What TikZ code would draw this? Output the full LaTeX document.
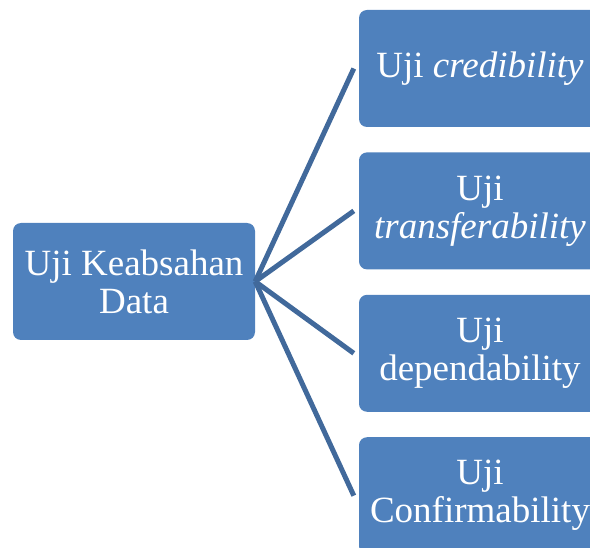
\documentclass[tikz,border=0pt]{standalone}
\usepackage{fontspec}
\setmainfont{Liberation Serif}
\usepackage{xcolor}
\usepackage{tikz}
\usetikzlibrary{positioning}

\definecolor{boxblue}{HTML}{4F81BD}
\definecolor{linkblue}{HTML}{41699B}

\begin{document}
\begin{tikzpicture}[x=1pt,y=1pt]
\tikzset{uji/.style={rectangle,rounded corners=8pt,fill=boxblue,draw=none,
		text=white,inner sep=0pt,minimum width=242pt,minimum height=117pt,
		align=center,font=\fontsize{37}{38}\selectfont},
	link/.style={draw=linkblue,line width=5pt}}

\useasboundingbox (0,0) rectangle (590,-548);
\clip (0,0) rectangle (590,-548);

\node[uji] (data) at (134,-281.5) {Uji Keabsahan\\Data};

\node[uji] (cred) at (480,-68.5) {Uji \textit{credibility}};

\node[uji] (trans) [below = 25pt of cred] {Uji\\\textit{transferability}};

\node[uji] (dep) [below = 25pt of trans] {Uji\\dependability};

\node[uji] (conf) [below = 25pt of dep] {Uji\\Confirmability};

\draw[link] (data.east) -- ([xshift=-5pt]cred.west) ;
\draw[link] (data.east) -- ([xshift=-5pt]trans.west) ;
\draw[link] (data.east) -- ([xshift=-5pt]dep.west) ;
\draw[link] (data.east) -- ([xshift=-5pt]conf.west) ;
\end{tikzpicture}
\end{document}
